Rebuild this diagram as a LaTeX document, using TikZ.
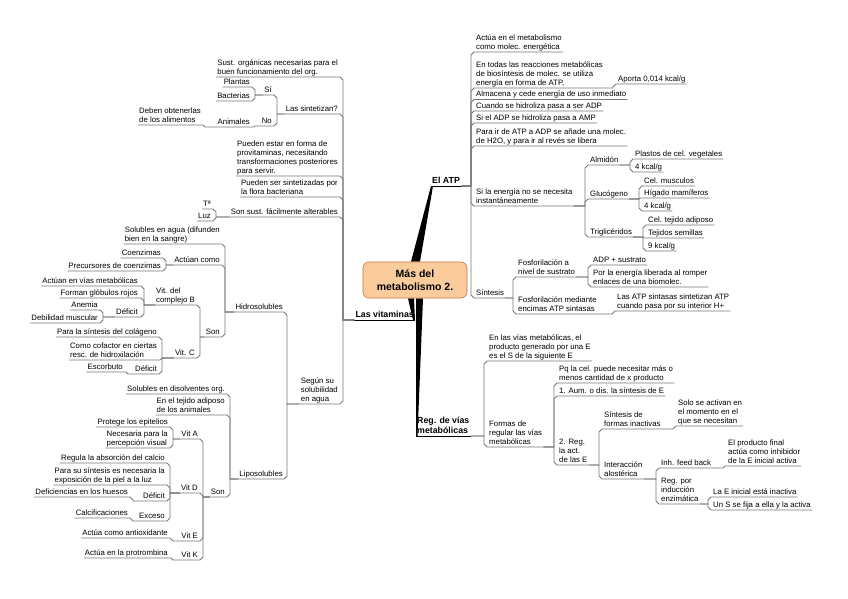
\documentclass[tikz,border=0pt]{standalone}
\usepackage{fontspec}
\setmainfont{Liberation Sans}
\usetikzlibrary{calc,backgrounds}
\definecolor{ln}{HTML}{777777}
\definecolor{boxfill}{HTML}{FACC9C}
\definecolor{boxdraw}{HTML}{C07840}
\tikzset{
  tx/.style={font=\fontsize{7.8}{9}\selectfont, inner xsep=1pt, inner ysep=0.8pt, text depth=1.8pt, align=left},
  rt/.style={tx, anchor=south west},
  lt/.style={tx, anchor=south east},
  mainT/.style={font=\fontsize{8.8}{10}\selectfont\bfseries, inner xsep=1pt, inner ysep=0.8pt, text depth=1.8pt, align=left},
  conn/.style={draw=ln, line width=0.75pt},
  mainln/.style={draw=black, line width=0.9pt},
  centre/.style={draw=boxdraw, fill=boxfill, rounded corners=6pt, minimum width=104pt, minimum height=36pt,
    font=\fontsize{10.5}{12.5}\selectfont\bfseries, align=center, line width=0.6pt},
}
% right-side connector: parent, child, x of vertical
\newcommand\rcn[3]{%
 \draw[conn] let \p1=(#1.south east), \p2=(#2.south west),
   \n1={ifthenelse(\y2>\y1,0-min(3,(\y2)-(\y1)),min(3,(\y1)-(\y2)))} in
   (\p1) -- (#3pt,\y1) -- ({#3pt},{\y2+(\n1)*1pt}) -- ({#3pt+abs(\n1)*1pt},\y2) -- (\p2) -- (#2.south east);}
% left-side connector
\newcommand\lcn[3]{%
 \draw[conn] let \p1=(#1.south west), \p2=(#2.south east),
   \n1={ifthenelse(\y2>\y1,0-min(3,(\y2)-(\y1)),min(3,(\y1)-(\y2)))} in
   (\p1) -- (#3pt,\y1) -- ({#3pt},{\y2+(\n1)*1pt}) -- ({#3pt-abs(\n1)*1pt},\y2) -- (\p2) -- (#2.south west);}
\begin{document}
\begin{tikzpicture}[x=1pt,y=-1pt]
\useasboundingbox (0,0) rectangle (848,599);
% ---------- main topics
\node[centre] (C) at (415,280) {Más del\\metabolismo 2.};
\node[mainT, anchor=south west] (ATP) at (431,186) {El ATP};
\node[mainT, anchor=south east] (LV) at (415,320) {Las vitaminas};
\node[mainT, anchor=south west] (REG) at (416,436) {Reg. de vías\\metabólicas};
\begin{scope}[on background layer]
\fill ([xshift=-4pt]C.north) -- ([xshift=5pt]C.north) -- ([xshift=2pt]ATP.south west) -- (ATP.south west) -- cycle;
\fill ([xshift=1pt]C.south) -- ([xshift=8pt]C.south) -- ([xshift=1.5pt]REG.south west) -- (REG.south west) -- cycle;
\fill ([xshift=-7pt]C.south) -- ([xshift=-1pt]C.south) -- (LV.south east) -- ([xshift=-2pt]LV.south east) -- cycle;
\end{scope}
\draw[mainln] (ATP.south west) -- (ATP.south east);
\draw[mainln] (LV.south west) -- (LV.south east);
\draw[mainln] (REG.south west) -- (REG.south east);
% ---------- El ATP
\node[rt] (a1) at (475,52) {Actúa en el metabolismo\\como molec. energética};
\node[rt] (a2) at (475,88) {En todas las reacciones metabólicas\\de biosíntesis de molec. se utiliza\\energía en forma de ATP,};
\node[rt] (a2c) at (617,84) {Aporta 0,014 kcal/g};
\node[rt] (a3) at (475,99.5) {Almacena y cede energía de uso inmediato};
\node[rt] (a4) at (475,111) {Cuando se hidroliza pasa a ser ADP};
\node[rt] (a5) at (475,123) {Si el ADP se hidroliza pasa a AMP};
\node[rt] (a6) at (475,146) {Para ir de ATP a ADP se añade una molec.\\de H2O, y para ir al revés se libera};
\node[rt] (a7) at (475,206) {Si la energía no se necesita\\instantáneamente};
\node[rt] (b1) at (589,165) {Almidón};
\node[rt] (b11) at (634,159) {Plastos de cel. vegetales};
\node[rt] (b12) at (634,172) {4 kcal/g};
\node[rt] (b2) at (589,199) {Glucógeno};
\node[rt] (b21) at (643,186) {Cel. musculos};
\node[rt] (b22) at (643,198) {Hígado mamíferos};
\node[rt] (b23) at (643,211) {4 kcal/g};
\node[rt] (b3) at (589,237) {Triglicéridos};
\node[rt] (b31) at (647,225) {Cel. tejido adiposo};
\node[rt] (b32) at (647,238) {Tejidos semillas};
\node[rt] (b33) at (647,251) {9 kcal/g};
\node[rt] (a8) at (475,298) {Síntesis};
\node[rt] (s1) at (517,277) {Fosforilación a\\nivel de sustrato};
\node[rt] (s11) at (592,265) {ADP + sustrato};
\node[rt] (s12) at (592,287) {Por la energía liberada al romper\\enlaces de una biomolec.};
\node[rt] (s2) at (517,314) {Fosforilación mediante\\encimas ATP sintasas};
\node[rt] (s21) at (616,311) {Las ATP sintasas sintetizan ATP\\cuando pasa por su interior H+};
\foreach \c in {a1,a2,a3,a4,a5,a6,a7,a8} {\rcn{ATP}{\c}{471}}
\rcn{a2}{a2c}{613}
\foreach \c in {b1,b2,b3} {\rcn{a7}{\c}{585}}
\rcn{b1}{b11}{630} \rcn{b1}{b12}{630}
\rcn{b2}{b21}{639} \rcn{b2}{b22}{639} \rcn{b2}{b23}{639}
\rcn{b3}{b31}{643} \rcn{b3}{b32}{643} \rcn{b3}{b33}{643}
\rcn{a8}{s1}{513} \rcn{a8}{s2}{513}
\rcn{s1}{s11}{588} \rcn{s1}{s12}{588}
\rcn{s2}{s21}{612}
% ---------- Reg. de vias
\node[rt] (r1) at (488,361) {En las vías metabólicas, el\\producto generado por una E\\es el S de la siguiente E};
\node[rt] (r2) at (488,447) {Formas de\\regular las vías\\metabólicas};
\node[rt] (r21) at (558,383) {Pq la cel. puede necesitar más o\\menos cantidad de x producto};
\node[rt] (r22) at (558,396) {1. Aum. o dis. la síntesis de E};
\node[rt] (r23) at (558,465) {2. Reg.\\la act.\\de las E};
\node[rt] (r231) at (603,429) {Síntesis de\\formas inactivas};
\node[rt] (r2311) at (677,426) {Solo se activan en\\el momento en el\\que se necesitan};
\node[rt] (r232) at (603,479) {Interacción\\alostérica};
\node[rt] (r2321) at (660,468) {Inh. feed back};
\node[rt] (r23211) at (727,466) {El producto final\\actúa como inhibidor\\de la E inicial activa};
\node[rt] (r2322) at (660,504) {Reg. por\\inducción\\enzimática};
\node[rt] (r23221) at (712,497) {La E inicial está inactiva};
\node[rt] (r23222) at (712,510) {Un S se fija a ella y la activa};
\rcn{REG}{r1}{484} \rcn{REG}{r2}{484}
\rcn{r2}{r21}{554} \rcn{r2}{r22}{554} \rcn{r2}{r23}{554}
\rcn{r23}{r231}{599} \rcn{r23}{r232}{599}
\rcn{r231}{r2311}{673}
\rcn{r232}{r2321}{656} \rcn{r232}{r2322}{656}
\rcn{r2321}{r23211}{723}
\rcn{r2322}{r23221}{708} \rcn{r2322}{r23222}{708}
% ---------- Las vitaminas
\node[lt] (v1) at (339,77) {Sust. orgánicas necesarias para el\\buen funcionamiento del org.};
\node[lt] (v2) at (339,114) {Las sintetizan?};
\node[lt] (v21) at (273,95) {Sí};
\node[lt] (v211) at (251,87) {Plantas};
\node[lt] (v212) at (251,101) {Bacterias};
\node[lt] (v22) at (273,126) {No};
\node[lt] (v221) at (251,127) {Animales};
\node[lt] (v2211) at (202,125) {Deben obtenerlas\\de los alimentos};
\node[lt] (v3) at (339,176) {Pueden estar en forma de\\provitaminas, necesitando\\transformaciones posteriores\\para servir.};
\node[lt] (v4) at (339,197) {Pueden ser sintetizadas por\\la flora bacteriana};
\node[lt] (v5) at (339,217) {Son sust. fácilmente alterables};
\node[lt] (v51) at (212,209) {Tª};
\node[lt] (v52) at (212,221) {Luz};
\node[lt] (v6) at (339,404) {Según su\\solubilidad\\en agua};
\foreach \c in {v1,v2,v3,v4,v5,v6} {\lcn{LV}{\c}{343}}
\lcn{v2}{v21}{277} \lcn{v2}{v22}{277}
\lcn{v21}{v211}{255} \lcn{v21}{v212}{255}
\lcn{v22}{v221}{255}
\lcn{v221}{v2211}{205}
\lcn{v5}{v51}{216} \lcn{v5}{v52}{216}
% Hidrosolubles
\node[lt] (h) at (284,312) {Hidrosolubles};
\node[lt] (h1) at (221,244) {Solubles en agua (difunden\\bien en la sangre)};
\node[lt] (h2) at (221,265) {Actúan como};
\node[lt] (h21) at (162,258) {Coenzimas};
\node[lt] (h22) at (162,271) {Precursores de coenzimas};
\node[lt] (h3) at (221,337) {Son};
\node[lt] (hb) at (196,305) {Vit. del\\complejo B};
\node[lt] (hb1) at (139,286) {Actúan en vías metabólicas};
\node[lt] (hb2) at (139,298) {Forman glóbulos rojos};
\node[lt] (hb3) at (139,317) {Déficit};
\node[lt] (hb31) at (99,310) {Anemia};
\node[lt] (hb32) at (99,323) {Debilidad muscular};
\node[lt] (hc) at (196,358) {Vit. C};
\node[lt] (hc1) at (158,337) {Para la síntesis del colágeno};
\node[lt] (hc2) at (158,360) {Como cofactor en ciertas\\resc. de hidroxilación};
\node[lt] (hc3) at (158,374) {Déficit};
\node[lt] (hc31) at (124,372) {Escorbuto};
\lcn{v6}{h}{287}
\lcn{h}{h1}{225} \lcn{h}{h2}{225} \lcn{h}{h3}{225}
\lcn{h2}{h21}{166} \lcn{h2}{h22}{166}
\lcn{h3}{hb}{200} \lcn{h3}{hc}{200}
\lcn{hb}{hb1}{144} \lcn{hb}{hb2}{144} \lcn{hb}{hb3}{144}
\lcn{hb3}{hb31}{103} \lcn{hb3}{hb32}{103}
\lcn{hc}{hc1}{162} \lcn{hc}{hc2}{162} \lcn{hc}{hc3}{162}
\lcn{hc3}{hc31}{128}
% Liposolubles
\node[lt] (lp) at (284,479) {Liposolubles};
\node[lt] (lp1) at (226,394) {Solubles en disolventes org.};
\node[lt] (lp2) at (226,415) {En el tejido adiposo\\de los animales};
\node[lt] (lp3) at (226,497) {Son};
\node[lt] (la) at (199,439) {Vit A};
\node[lt] (la1) at (169,427) {Protege los epitelios};
\node[lt] (la2) at (169,448) {Necesaria para la\\percepción visual};
\node[lt] (ld) at (199,493) {Vit D};
\node[lt] (ld1) at (166,463) {Regula la absorción del calcio};
\node[lt] (ld2) at (166,485) {Para su síntesis es necesaria la\\exposición de la piel a la luz};
\node[lt] (ld3) at (166,501) {Déficit};
\node[lt] (ld31) at (129,497) {Deficiencias en los huesos};
\node[lt] (ld4) at (166,521) {Exceso};
\node[lt] (ld41) at (129,518) {Calcificaciones};
\node[lt] (le) at (199,541) {Vit E};
\node[lt] (le1) at (169,538) {Actúa como antioxidante};
\node[lt] (lk) at (199,560) {Vit K};
\node[lt] (lk1) at (169,558) {Actúa en la protrombina};
\lcn{v6}{lp}{287}
\lcn{lp}{lp1}{230} \lcn{lp}{lp2}{230} \lcn{lp}{lp3}{230}
\lcn{lp3}{la}{203} \lcn{lp3}{ld}{203} \lcn{lp3}{le}{203} \lcn{lp3}{lk}{203}
\lcn{la}{la1}{173} \lcn{la}{la2}{173}
\lcn{ld}{ld1}{170} \lcn{ld}{ld2}{170} \lcn{ld}{ld3}{170} \lcn{ld}{ld4}{170}
\lcn{ld3}{ld31}{133}
\lcn{ld4}{ld41}{133}
\lcn{le}{le1}{173}
\lcn{lk}{lk1}{173}
\end{tikzpicture}
\end{document}
